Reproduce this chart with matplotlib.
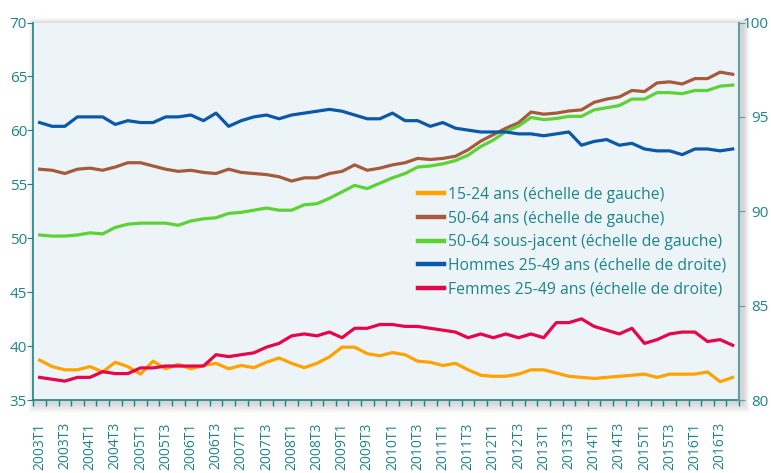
import numpy as np
import matplotlib.pyplot as plt
from matplotlib.patches import Rectangle
from matplotlib.lines import Line2D

plt.rcParams['font.family'] = ['Open Sans', 'DejaVu Sans']

quarters = [f"{y}T{q}" for y in range(2003, 2017) for q in range(1, 5)]

# left scale (%)
jeunes_15_24 = [38.7, 38.1, 37.8, 37.8, 38.1, 37.6, 38.5, 38.1, 37.4, 38.6,
                37.9, 38.3, 37.9, 38.2, 38.4, 37.9, 38.2, 38.0, 38.5, 38.9,
                38.4, 38.0, 38.4, 39.0, 39.9, 39.9, 39.3, 39.1, 39.4, 39.2,
                38.6, 38.5, 38.2, 38.4, 37.8, 37.3, 37.2, 37.2, 37.4, 37.8,
                37.8, 37.5, 37.2, 37.1, 37.0, 37.1, 37.2, 37.3, 37.4, 37.1,
                37.4, 37.4, 37.4, 37.6, 36.7, 37.1]
seniors_50_64 = [56.4, 56.3, 56.0, 56.4, 56.5, 56.3, 56.6, 57.0, 57.0, 56.7,
                 56.4, 56.2, 56.3, 56.1, 56.0, 56.4, 56.1, 56.0, 55.9, 55.7,
                 55.3, 55.6, 55.6, 56.0, 56.2, 56.8, 56.3, 56.5, 56.8, 57.0,
                 57.4, 57.3, 57.4, 57.6, 58.2, 59.0, 59.6, 60.2, 60.7, 61.7,
                 61.5, 61.6, 61.8, 61.9, 62.6, 62.9, 63.1, 63.7, 63.6, 64.4,
                 64.5, 64.3, 64.8, 64.8, 65.4, 65.2]
seniors_sous_jacent = [50.3, 50.2, 50.2, 50.3, 50.5, 50.4, 51.0, 51.3, 51.4, 51.4,
                       51.4, 51.2, 51.6, 51.8, 51.9, 52.3, 52.4, 52.6, 52.8, 52.6,
                       52.6, 53.1, 53.2, 53.7, 54.3, 54.9, 54.6, 55.1, 55.6, 56.0,
                       56.6, 56.7, 56.9, 57.2, 57.7, 58.5, 59.1, 59.9, 60.4, 61.2,
                       61.0, 61.1, 61.3, 61.3, 61.9, 62.1, 62.3, 62.9, 62.9, 63.5,
                       63.5, 63.4, 63.7, 63.7, 64.1, 64.2]

# right scale (%)
hommes_25_49 = [94.7, 94.5, 94.5, 95.0, 95.0, 95.0, 94.6, 94.8, 94.7, 94.7,
                95.0, 95.0, 95.1, 94.8, 95.2, 94.5, 94.8, 95.0, 95.1, 94.9,
                95.1, 95.2, 95.3, 95.4, 95.3, 95.1, 94.9, 94.9, 95.2, 94.8,
                94.8, 94.5, 94.7, 94.4, 94.3, 94.2, 94.2, 94.2, 94.1, 94.1,
                94.0, 94.1, 94.2, 93.5, 93.7, 93.8, 93.5, 93.6, 93.3, 93.2,
                93.2, 93.0, 93.3, 93.3, 93.2, 93.3]
femmes_25_49 = [81.2, 81.1, 81.0, 81.2, 81.2, 81.5, 81.4, 81.4, 81.7, 81.7,
                81.8, 81.8, 81.8, 81.8, 82.4, 82.3, 82.4, 82.5, 82.8, 83.0,
                83.4, 83.5, 83.4, 83.6, 83.3, 83.8, 83.8, 84.0, 84.0, 83.9,
                83.9, 83.8, 83.7, 83.6, 83.3, 83.5, 83.3, 83.5, 83.3, 83.5,
                83.3, 84.1, 84.1, 84.3, 83.9, 83.7, 83.5, 83.8, 83.0, 83.2,
                83.5, 83.6, 83.6, 83.1, 83.2, 82.9]

labels = ["15-24 ans (échelle de gauche)",
          "50-64 ans (échelle de gauche)",
          "50-64 sous-jacent (échelle de gauche)",
          "Hommes 25-49 ans (échelle de droite)",
          "Femmes 25-49 ans (échelle de droite)"]
colors = ["#FFA200", "#A65A3C", "#5CD234", "#0B58A8", "#E8064B"]
teal = "#1E8489"

x = np.arange(len(quarters))

fig = plt.figure(figsize=(7.71, 4.73), dpi=100)
ax = fig.add_axes([0.0432, 0.1543, 0.9153, 0.7981])

# soft drop shadow around the plot area
W, H = 771, 473
x0, y0, w0, h0 = 33.3, 73, 705.7, 377.5
for k in range(1, 12):
    fig.patches.append(Rectangle(((x0 - k * 0.6 + 2) / W, (y0 - k - 2) / H),
                                 (w0 + k * 1.2 + 2) / W, (h0 + k * 1.6) / H,
                                 transform=fig.transFigure, facecolor="#606060",
                                 edgecolor="none", alpha=0.025, zorder=-5))

ax.set_facecolor("#ECF4F8")
ax2 = ax.twinx()

ax.plot(x, jeunes_15_24, color=colors[0], lw=2.3)
ax.plot(x, seniors_50_64, color=colors[1], lw=2.3)
ax.plot(x, seniors_sous_jacent, color=colors[2], lw=2.3)
ax2.plot(x, hommes_25_49, color=colors[3], lw=2.3)
ax2.plot(x, femmes_25_49, color=colors[4], lw=2.3)

ax.set_xlim(-0.5, len(quarters) - 0.5)
ax.set_ylim(35, 70)
ax2.set_ylim(80, 100)
ax.set_yticks(np.arange(35, 71, 5))
ax2.set_yticks(np.arange(80, 101, 5))

ax.set_xticks(np.arange(-0.5, len(quarters), 1))
ax.set_xticklabels([])
ax.set_xticks(x[::2], minor=True)
ax.set_xticklabels(quarters[::2], minor=True, rotation=90)
ax.tick_params(axis="x", which="major", length=4, color=teal, width=1)
ax.tick_params(axis="x", which="minor", length=0, pad=16, labelsize=10, labelcolor=teal)
ax.tick_params(axis="y", length=4, color=teal, labelsize=11, labelcolor=teal, pad=0.5)
ax2.tick_params(axis="y", length=4, color="#5E9EA4", labelsize=11, labelcolor=teal, pad=17.5)
for t in ax2.get_yticklabels():
    t.set_horizontalalignment("right")

for a in (ax, ax2):
    a.spines["top"].set_visible(False)
ax.spines["right"].set_visible(False)
ax.spines["left"].set_color(teal)
ax.spines["bottom"].set_color(teal)
ax2.spines["left"].set_visible(False)
ax2.spines["bottom"].set_visible(False)
ax2.spines["right"].set_color("#5E9EA4")
ax.spines["left"].set_linewidth(1.2)
ax.spines["bottom"].set_linewidth(1.2)
ax2.spines["right"].set_linewidth(1.5)

handles = [Line2D([], [], color=c, lw=3.2) for c in colors]
leg = ax2.legend(handles, labels, loc="upper left", bbox_to_anchor=(0.536, 0.581),
                 frameon=False, fontsize=11.3, handlelength=1.65, handletextpad=0.3,
                 labelspacing=0.485, borderaxespad=0)
for t in leg.get_texts():
    t.set_color(teal)

fig.savefig("out.png", dpi=100)
